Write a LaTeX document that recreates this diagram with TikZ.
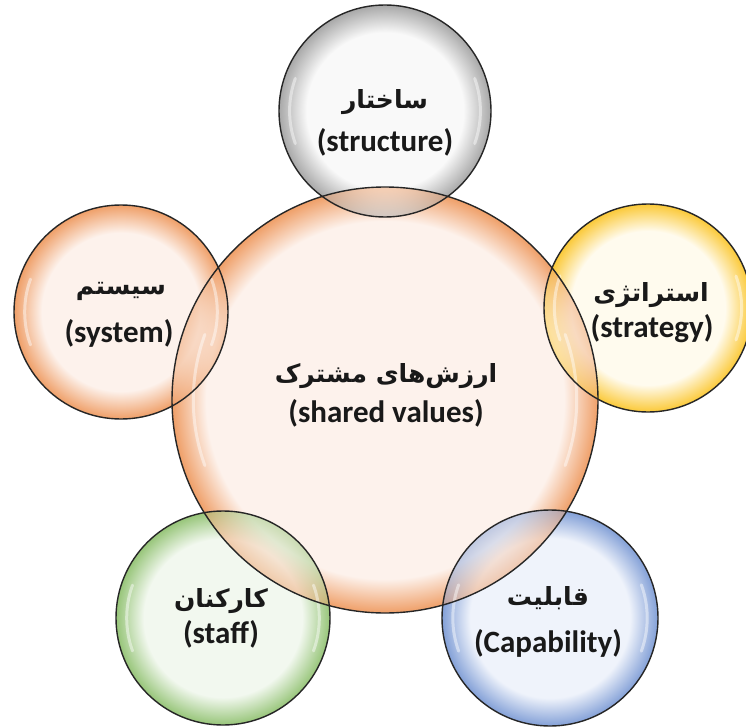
\documentclass[tikz,border=0pt]{standalone}
\usepackage{fontspec}
\setmainfont{Carlito}
\newfontfamily\arabicfont[Script=Arabic]{DejaVu Sans}
\TeXXeTstate=1
\definecolor{grayin}{HTML}{F9F9F9}\definecolor{grayout}{HTML}{A8A8A8}
\definecolor{orin}{HTML}{FDF2EC}\definecolor{orout}{HTML}{EF9F68}
\definecolor{yein}{HTML}{FFFBEE}\definecolor{yeout}{HTML}{FBC938}
\definecolor{grin}{HTML}{F2F8EF}\definecolor{grout}{HTML}{97C579}
\definecolor{blin}{HTML}{EFF3FB}\definecolor{blout}{HTML}{83A0D7}
\newcommand{\mkbubble}[4]{\pgfdeclareradialshading{#1}{\pgfpoint{0bp}{0bp}}{color(0bp)=(#2); color(#4)=(#2); color(25bp)=(#3); color(50bp)=(#3)}}
\mkbubble{bgray}{grayin}{grayout}{18.5bp}
\mkbubble{borange}{orin}{orout}{18.5bp}
\mkbubble{bcentral}{orin}{orout}{21bp}
\mkbubble{byellow}{yein}{yeout}{18.5bp}
\mkbubble{bgreen}{grin}{grout}{18.5bp}
\mkbubble{bblue}{blin}{blout}{18.5bp}
\begin{document}
\begin{tikzpicture}[x=1pt,y=-1pt,
  ring/.style={draw=black!85, line width=1.4pt},
  gloss/.style={draw=white, opacity=0.45, line width=3pt, line cap=round},
  lat/.style={font=\fontsize{31}{36}\selectfont\bfseries, inner sep=0pt, text=black!90},
  ara/.style={font=\arabicfont\fontsize{25}{30}\selectfont\bfseries, inner sep=0pt, text=black!90}]
\useasboundingbox[fill=white] (0,0) rectangle (746,727);
\coordinate (cC) at (385,400);
\coordinate (cT) at (385,111);
\coordinate (cR) at (648,308);
\coordinate (cL) at (121,312);
\coordinate (cG) at (223,618);
\coordinate (cB) at (550,618);
% central bubble
\shade[shading=bcentral] (cC) circle (213);
% satellites
\foreach \c/\r/\s in {cT/106/bgray, cR/104/byellow, cL/107/borange, cG/107/bgreen, cB/108/bblue}{
  \shade[shading=\s] (\c) circle (\r);
  \begin{scope}
    \clip (\c) circle (\r);
    \shade[shading=bcentral, opacity=0.5] (cC) circle (213);
  \end{scope}
}
% gloss highlights
\foreach \c/\r in {cC/213, cT/106, cR/104, cL/107, cG/107, cB/108}{
  \begin{scope}[shift={(\c)}]
    \draw[gloss] (160:0.9*\r) arc[start angle=160, end angle=200, radius=0.9*\r];
    \draw[gloss] (-20:0.9*\r) arc[start angle=-20, end angle=20, radius=0.9*\r];
  \end{scope}
}
% outlines
\draw[ring] (cC) circle (213);
\foreach \c/\r in {cT/106, cR/104, cL/107, cG/107, cB/108}{
  \draw[ring] (\c) circle (\r);
}
% texts
\node[ara] (aT) at (385,102) {\beginR ساختار\endR};
\node[lat] (lT) at (385,142) {(structure)};
\node[ara] (aR) at (651,295) {\beginR استراتژی\endR};
\node[lat] (lR) at (652,329) {(strategy)};
\node[ara] (aL) at (121,291) {\beginR سیستم\endR};
\node[lat] (lL) at (119,333) {(system)};
\node[ara] (aC) at (386,376) {\beginR ارزش‌های مشترک\endR};
\node[lat] (lC) at (386,413) {(shared values)};
\node[ara] (aG) at (221,601) {\beginR کارکنان\endR};
\node[lat] (lG) at (221,634) {(staff)};
\node[ara] (aB) at (548,598) {\beginR قابلیت\endR};
\node[lat] (lB) at (548,643) {(Capability)};
\end{tikzpicture}
\end{document}
